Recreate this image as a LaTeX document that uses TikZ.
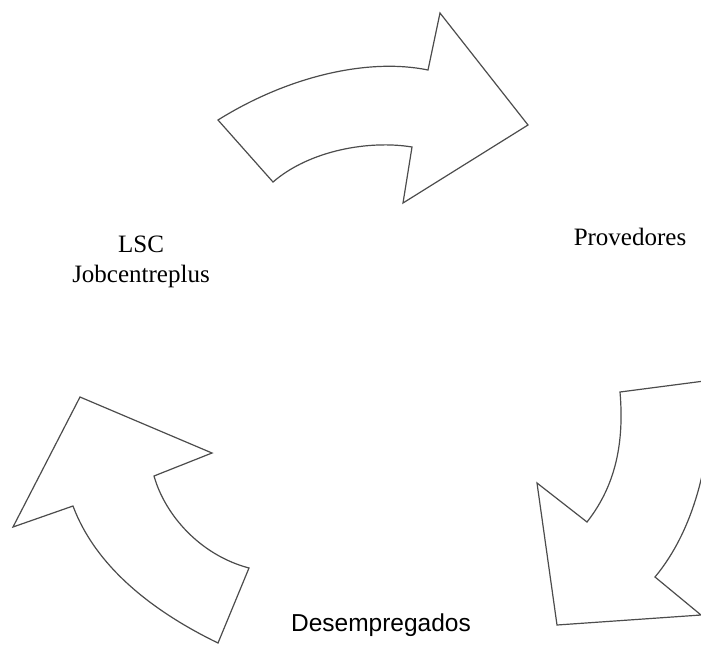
\documentclass[tikz,border=0pt]{standalone}
\usepackage{fontspec}
\setmainfont{Liberation Serif}
\setsansfont{Liberation Sans}
\usepackage{tikz}

\begin{document}
\begin{tikzpicture}[x = 1pt, y = -1pt,
    block/.style = {draw = black!70, line width = 1.2pt, fill = white, line join = miter},
    rolelabel/.style = {align = center, inner sep = 0pt, text = black, font = \fontsize{25}{30}\selectfont},
    grouplabel/.style = {inner sep = 0pt, text = black, font = \sffamily\fontsize{24.5}{29}\selectfont}]
  \useasboundingbox (0,0) rectangle (701,646);
  % labels
  \node[rolelabel] (lsc) at (141,262) {LSC\\Jobcentreplus};
  \node[rolelabel] (provedores) at (630,237) {Provedores};
  \node[grouplabel] (desempregados) at (381,625) {Desempregados};
  % block arrows
  \draw[block] (218,120) .. controls (290,75) and (370,58) .. (428,70)
               -- (440,13) -- (528,125) -- (403,203) -- (412,147)
               .. controls (370,140) and (310,150) .. (273,182) -- cycle;
  \draw[block] (620,392) -- (712,380) .. controls (712,460) and (694,530) .. (655,577)
               -- (701,615) -- (557,625) -- (537,483) -- (587,522)
               .. controls (612,490) and (625,450) .. cycle;
  \draw[block] (80,397) -- (212,453) -- (154,476)
               .. controls (165,515) and (200,555) .. (249,568) -- (218,643)
               .. controls (150,610) and (95,565) .. (73,506) -- (13,527) -- cycle;
\end{tikzpicture}
\end{document}
